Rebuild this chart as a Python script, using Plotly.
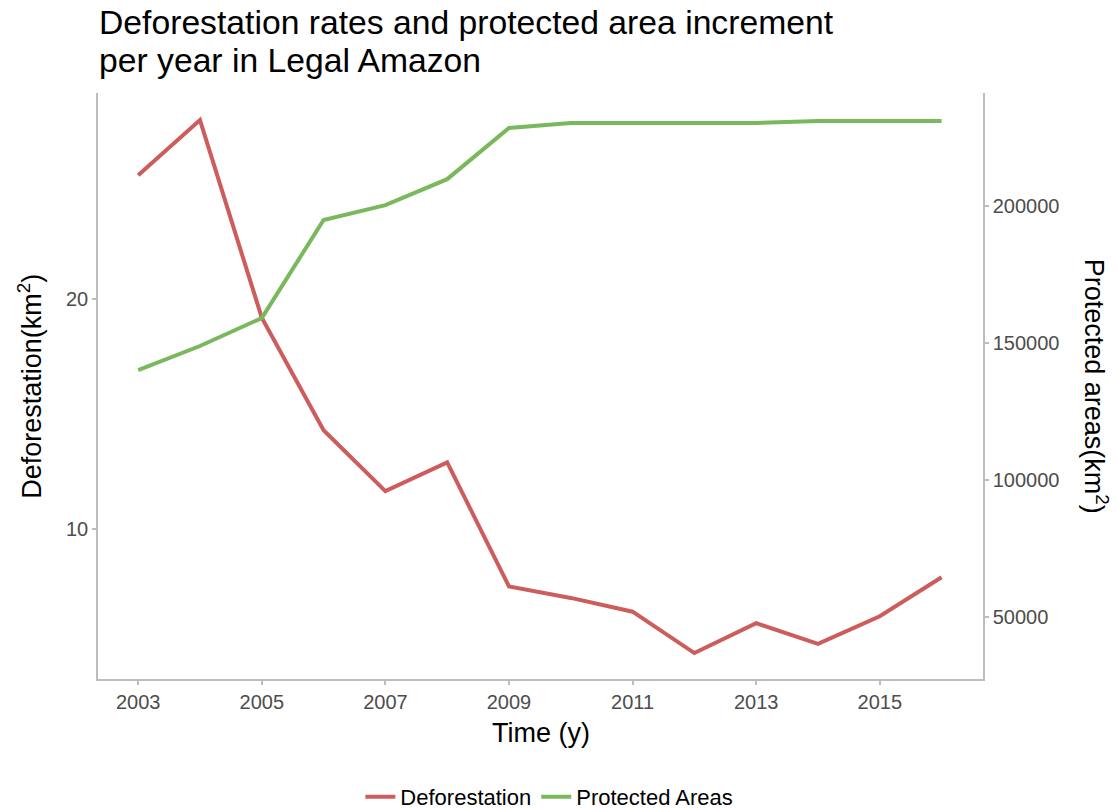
import plotly.graph_objects as go

years = list(range(2003, 2017))
deforestation = [25.4, 27.8, 19.2, 14.3, 11.65, 12.9, 7.5, 7.0, 6.4, 4.6, 5.9, 5.0, 6.2, 7.9]
protected_areas = [140100, 148900, 159100, 194900, 200300, 209800, 228500, 230300,
                   230300, 230300, 230300, 231000, 231000, 231000]
x_ticks = [2003, 2005, 2007, 2009, 2011, 2013, 2015]
left_ticks = [10, 20]
right_ticks = [50000, 100000, 150000, 200000]

RED = "#cd5c5c"
GREEN = "#7ab85e"
AXIS_GRAY = "#bdbdbd"
TICK_TEXT = "#4d4d4d"
FONT = "Liberation Sans, Arial, sans-serif"

fig = go.Figure()
fig.add_trace(go.Scatter(x=years, y=deforestation, mode="lines", name="Deforestation",
                         line=dict(color=RED, width=4), yaxis="y"))
fig.add_trace(go.Scatter(x=years, y=protected_areas, mode="lines", name="Protected Areas",
                         line=dict(color=GREEN, width=4), yaxis="y2"))

axis_common = dict(showline=True, linecolor=AXIS_GRAY, linewidth=1.5, ticks="outside",
                   ticklen=4, tickcolor=AXIS_GRAY, tickwidth=1.5, showgrid=False,
                   zeroline=False, tickfont=dict(size=20, color=TICK_TEXT, family=FONT))

W, H = 1110, 801
fig.update_layout(
    width=W, height=H,
    margin=dict(l=90, r=135, t=85, b=130, autoexpand=False),
    paper_bgcolor="white", plot_bgcolor="white",
    font=dict(family=FONT, color="black"),
    xaxis=dict(range=[2002.35, 2016.67], tickvals=x_ticks, mirror=False, **axis_common),
    yaxis=dict(range=[3.47, 28.98], tickvals=left_ticks, side="left", **axis_common),
    yaxis2=dict(range=[27372, 241241], tickvals=right_ticks, tickformat="d",
                overlaying="y", side="right", **axis_common),
    showlegend=True,
    legend=dict(orientation="h", x=0.51, xanchor="center", xref="paper",
                y=12 / H, yanchor="middle", yref="container",
                font=dict(size=22, color="black", family=FONT)),
    annotations=[
        dict(text="Deforestation rates and protected area increment", xref="paper",
             yref="paper", x=-0.001, y=1.1212, xanchor="left", yanchor="middle",
             showarrow=False, font=dict(size=33.7, color="black", family=FONT)),
        dict(text="per year in Legal Amazon", xref="paper",
             yref="paper", x=-0.001, y=1.0563, xanchor="left", yanchor="middle",
             showarrow=False, font=dict(size=33.7, color="black", family=FONT)),
        dict(text="Time (y)", xref="paper", yref="paper", x=0.5, y=-0.092,
             xanchor="center", yanchor="middle", showarrow=False,
             font=dict(size=27, color="black", family=FONT)),
        dict(text="Deforestation(km<sup>2</sup>)", xref="paper", yref="paper",
             x=-0.077, y=0.5, xanchor="center", yanchor="middle", textangle=-90,
             showarrow=False, font=dict(size=27, color="black", family=FONT)),
        dict(text="Protected areas(km<sup>2</sup>)", xref="paper", yref="paper",
             x=1.128, y=0.5, xanchor="center", yanchor="middle", textangle=90,
             showarrow=False, font=dict(size=27, color="black", family=FONT)),
    ],
)

fig.write_html("out.html")
